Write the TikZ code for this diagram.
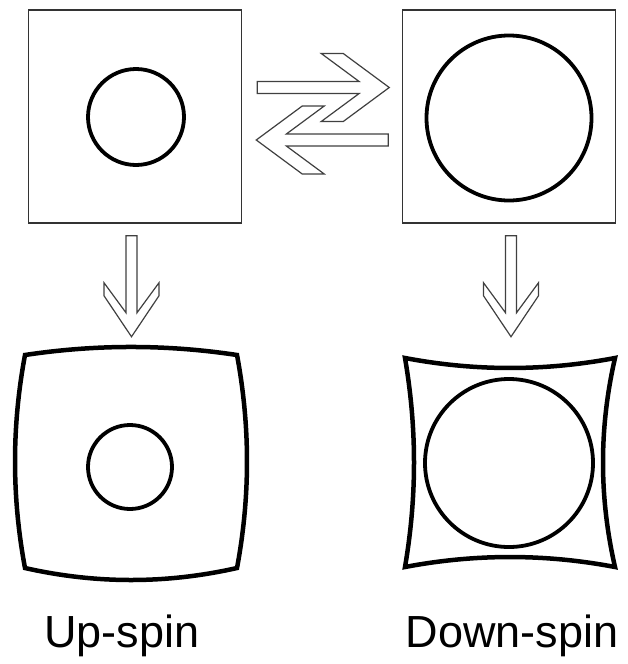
\documentclass[tikz,border=0pt]{standalone}
\usepackage{fontspec}
\setmainfont{Liberation Sans}
\usetikzlibrary{calc}

\begin{document}
\begin{tikzpicture}[x=1pt,y=-1pt]
    \tikzset{cellbox/.style = {shape=rectangle,draw=black!80,line width=1.5pt,minimum size=213pt,inner sep=0pt}}
    \tikzset{ring/.style = {shape=circle,draw,line width=3.8pt,inner sep=0pt}}
    \tikzset{hollow/.style = {draw=black!75,line width=1.2pt,line join=miter,fill=white}}
    \tikzset{cellwall/.style = {draw,line width=4.5pt,line join=miter}}
    \tikzset{spinname/.style = {anchor=base,inner sep=0pt,font=\fontsize{45}{54}\selectfont}}

    \useasboundingbox (0,0) rectangle (627,664);

    % top row

    \node[cellbox] (up) at (135,116.5) {};
    \node[cellbox] (down) at (509,116.5) {};
    \node[ring,minimum size=96pt] (upc) at (136,117) {};
    \node[ring,minimum size=165pt] (downc) at (509,118) {};

    % bottom row

    \coordinate (upcell) at (131,462);
    \coordinate (downcell) at (510,462.5);
    \draw[cellwall] (25,355) .. controls (96,344.3) and (166,344.3) .. (237,355)
        .. controls (250.3,426) and (250.3,497) .. (237,568)
        .. controls (166,584) and (96,584) .. (25,568)
        .. controls (11.7,497) and (11.7,426) .. cycle;
    \draw[cellwall] (405,358) .. controls (475,371.3) and (545,371.3) .. (615,358)
        .. controls (599,428) and (599,497) .. (615,567)
        .. controls (545,553.7) and (475,553.7) .. (405,567)
        .. controls (417,497) and (417,428) .. cycle;
    \node[ring,minimum size=84pt] (upc2) at (130,467) {};
    \node[ring,minimum size=168pt] (downc2) at (509,463) {};

    \node[spinname] (upname) at (122,647) {Up-spin};
    \node[spinname] (downname) at (512,647) {Down-spin};

    % arrows

    \coordinate (rtip) at ($(down.west)+(-12.5,-29)$);
    \coordinate (ltip) at ($(up.east)+(14,23.5)$);
    \coordinate (dtip1) at ($(up.south)+(-3.5,113)$);
    \coordinate (dtip2) at ($(down.south)+(2,113)$);
    \draw[hollow] (rtip) -- ++(-46,-34) -- ++(-22,0) -- ++(37.9,28) -- ++(-101.9,0)
        -- ++(0,12) -- ++(101.9,0) -- ++(-37.9,28) -- ++(22,0) -- cycle;
    \draw[hollow] (ltip) -- ++(46,-34) -- ++(22,0) -- ++(-37.9,28) -- ++(101.9,0)
        -- ++(0,12) -- ++(-101.9,0) -- ++(37.9,28) -- ++(-22,0) -- cycle;
    \draw[hollow] (dtip1) -- ++(-27.5,-41) -- ++(0,-13) -- ++(22,30) -- ++(0,-77)
        -- ++(11,0) -- ++(0,77) -- ++(22,-30) -- ++(0,13) -- cycle;
    \draw[hollow] (dtip2) -- ++(-27.5,-41) -- ++(0,-13) -- ++(22,30) -- ++(0,-77)
        -- ++(11,0) -- ++(0,77) -- ++(22,-30) -- ++(0,13) -- cycle;
\end{tikzpicture}
\end{document}
